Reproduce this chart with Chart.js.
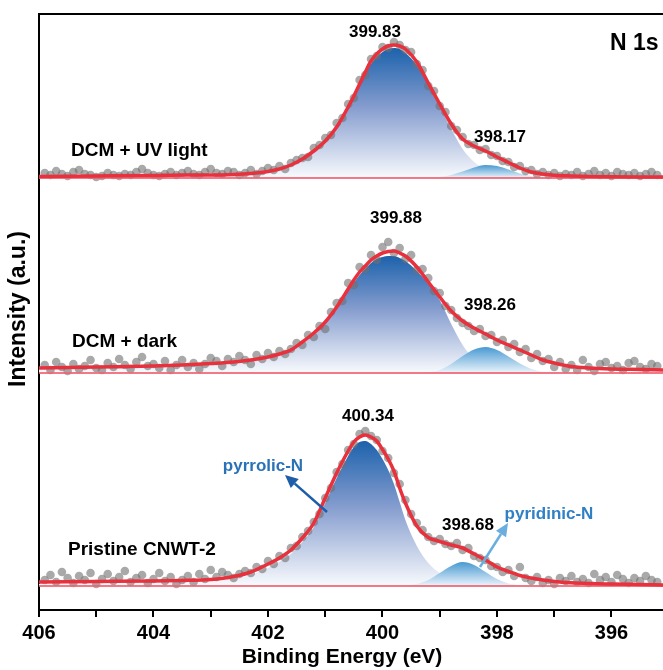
<!DOCTYPE html>
<html>
<head>
<meta charset="utf-8">
<title>N 1s XPS</title>
<script src="https://cdn.jsdelivr.net/npm/chart.js@4.4.1/dist/chart.umd.min.js"></script>
<style>
  html, body { margin: 0; padding: 0; background: #fff; overflow: hidden; }
  #wrap { width: 663px; height: 670px; }
  canvas { display: block; }
</style>
</head>
<body>
<div id="wrap"><canvas id="xps" width="663" height="670"></canvas></div>
<script>
var fontFam = "'Liberation Sans', Arial, Helvetica, sans-serif";

// energy grid of the fitted curves (eV)
var fitEnergy = [406, 405, 404, 403.5, 403, 402.6, 402.3, 402.0, 401.8, 401.6,
	401.4, 401.2, 401.0, 400.8, 400.6, 400.5, 400.4, 400.3, 400.2, 400.1,
	400.0, 399.9, 399.8, 399.7, 399.6, 399.4, 399.2, 399.0, 398.8, 398.6,
	398.4, 398.2, 398.0, 397.8, 397.6, 397.4, 397.2, 397.0, 396.7, 396.4,
	396.0, 395.5, 395.0];

// raw spectra: first energy and step (eV)
var rawStart = 405.9;
var rawStep = 0.1;

var panelNames = ['DCM + UV light', 'DCM + dark', 'Pristine CNWT-2'];
var panelBase = [432, 237, 24];   // vertical offset of each spectrum

// DCM + UV light
var uvRaw = [5,3,7,4,2,6,8,4,3,1, 2,5,3,2,4,3,6,9,5,3, 2,4,6,3,5,7,4,3,6,9,
	5,4,7,6,3,5,8,4,7,10, 8,12,9,15,18,20,21,30,33,40, 43,55,60,74,80,98,103,119,122,131,
	130,136,133,128,126,114,108,92,87,72, 66,52,48,41,34,33,28,29,23,22,
	17,16,11,12,7,8,4,6,3,5, 2,4,3,6,2,4,7,3,5,2, 6,4,3,5,2,4,6,3];
var uvEnv = [1.5,2,2.5,3,3, 3.5,4.5,6.5,9,13, 19,27,37,51,71, 82,94,106,117,124,
	129,132,133,132,129, 116,95,74,54,39, 32,27,21,15.5,10, 6,4,2.7,2,1.5, 1.2,1,1];
var uvMain = [1.5,2,2.5,3,3, 3.5,4.5,6.5,8.5,12.5, 18,26,36,50,69, 80,92,104,114,121,
	126,129,130,129,125, 113,94,72,49,29, 16,9,4.5,2.5,2, 1.5,1.2,1,0.8,0.6, 0.5,0.4,0.3];
var uvSmall = [0,0,0,0,0, 0,0,0,0,0, 0,0,0,0,0, 0,0,0,0,0, 0,0,0,0,0,
	0,0.3,1,3,6.5, 10.5,13,12,8.5,4.5, 2,0.7,0.2,0,0, 0,0,0];

// DCM + dark
var darkRaw = [8,3,11,6,2,9,4,7,13,5, 3,10,6,14,8,4,11,16,7,9, 5,12,3,8,13,6,10,4,9,15,
	12,7,14,11,17,13,9,18,14,20, 16,22,19,24,30,28,38,36,47,44, 61,70,72,90,88,106,104,118,113,126,
	131,120,125,114,118,103,104,95,82,80, 67,63,55,50,47,42,44,37,38,31,
	33,26,29,21,24,15,19,12,14,6, 11,4,8,3,13,6,2,9,11,5, 7,3,10,12,6,4,9,7];
var darkEnv = [5,6,7,8,9.5, 11,13,16,19,23, 31,40,51,66,84, 93,101,107,113,117,
	120,121.5,122,120,117, 106,91,76,62,52, 45,39,33,28,23, 18,13,10,6.5,5, 4,3.5,3];
var darkMain = [4,5,6,7,8.5, 10,12,15,18,22, 29,38,49,64,82, 90,98,104,110,114,
	116,117,117,115,112, 102,89,73,49,28, 14,6,3.5,2.5,2, 1.5,1.2,1,0.8,0.6, 0.5,0.4,0.3];
var darkSmall = [0,0,0,0,0, 0,0,0,0,0, 0,0,0,0,0, 0,0,0,0,0, 0,0,0,0,0,
	0,0.5,3,9,17, 23.5,26,23,16.5,9.5, 4,1,0.2,0,0, 0,0,0];

// Pristine CNWT-2
var priRaw = [6,11,4,14,8,3,10,6,13,2, 7,12,5,9,15,4,8,11,3,7, 13,5,9,2,6,10,4,12,7,16,
	9,14,11,8,12,15,13,19,17,25, 22,30,28,38,40,49,55,64,72,88, 98,114,122,136,142,152,155,150,146,135,
	128,113,102,86,72,63,56,49,45,47, 42,40,43,36,38,30,28,26,20,19,
	14,16,10,19,8,5,9,3,6,2, 8,5,10,4,7,3,12,6,9,4, 11,7,3,8,5,10,6,4];
var priEnv = [4,4.5,5,5.5,6.5, 9.5,14,22,28,36, 48,63,88,113,135, 144,149,151,149,145,
	136.5,127,115,98,83, 60,48.5,44.5,41,38, 32,26,19,14.5,10.5, 8,6,4.5,3.2,2.5, 2,1.5,1];
var priMain = [2,2.5,3,3.5,4.5, 7,11,18,24,32, 44,59,83,108,130, 139,144,145,142,136,
	127,116,102,84,66, 40,23,13,7,4, 3,2,1.5,1,0.8, 0.6,0.5,0.4,0.3,0.2, 0.2,0.1,0.1];
var priSmall = [0,0,0,0,0, 0,0,0,0,0, 0,0,0,0,0, 0,0,0,0,0, 0,0,0,0,
	0.5,2,6,13,20, 24,21,14,7,2.5, 0.8,0.2,0,0,0, 0,0,0,0];

var rawEnergy = [];
for (var i = 0; i < uvRaw.length; i++) {
	rawEnergy.push(+(rawStart - i * rawStep).toFixed(2));
}

function toPoints(energy, vals, base) {
	var out = [];
	for (var i = 0; i < vals.length; i++) {
		out.push({ x: energy[i], y: base + vals[i] });
	}
	return out;
}

// vertical gradient from peak top down to the baseline of a panel
function fade(stops, base, peak) {
	return function(c) {
		var chart = c.chart;
		if (!chart.chartArea) return stops[0][1];
		var ys = chart.scales.y;
		var g = chart.ctx.createLinearGradient(0, ys.getPixelForValue(base + peak), 0, ys.getPixelForValue(base));
		stops.forEach(function(s) { g.addColorStop(s[0], s[1]); });
		return g;
	};
}

var mainStops = [[0, 'rgb(28,98,172)'], [0.45, 'rgb(132,156,206)'], [1, 'rgb(248,250,253)']];
var smallStops = [[0, 'rgb(72,153,210)'], [1, 'rgb(236,244,251)']];

var panels = [
	{ raw: uvRaw, env: uvEnv, main: uvMain, small: uvSmall },
	{ raw: darkRaw, env: darkEnv, main: darkMain, small: darkSmall },
	{ raw: priRaw, env: priEnv, main: priMain, small: priSmall }
];

var datasets = [];
panels.forEach(function(p, k) {
	var base = panelBase[k];
	datasets.push({
		label: panelNames[k] + ' fit',
		data: toPoints(fitEnergy, p.env, base),
		borderColor: '#e8313c',
		borderWidth: 3.5,
		cubicInterpolationMode: 'monotone',
		pointRadius: 0,
		fill: false,
		order: 1
	});
	datasets.push({
		label: panelNames[k] + ' background',
		data: [{ x: 406, y: base }, { x: 395, y: base }],
		borderColor: 'rgba(240,98,112,0.85)',
		borderWidth: 2,
		pointRadius: 0,
		fill: false,
		order: 2
	});
	datasets.push({
		label: panelNames[k] + ' raw',
		data: toPoints(rawEnergy, p.raw, base),
		showLine: false,
		pointRadius: 4.3,
		pointBorderWidth: 0,
		pointBackgroundColor: 'rgba(112,112,112,0.6)',
		order: 3
	});
	datasets.push({
		label: panelNames[k] + ' pyridinic-N',
		data: toPoints(fitEnergy, p.small, base),
		borderWidth: 0,
		borderColor: 'rgba(0,0,0,0)',
		backgroundColor: fade(smallStops, base, Math.max.apply(null, p.small)),
		cubicInterpolationMode: 'monotone',
		pointRadius: 0,
		fill: { value: base },
		order: 4
	});
	datasets.push({
		label: panelNames[k] + ' pyrrolic-N',
		data: toPoints(fitEnergy, p.main, base),
		borderWidth: 0,
		borderColor: 'rgba(0,0,0,0)',
		backgroundColor: fade(mainStops, base, Math.max.apply(null, p.main)),
		cubicInterpolationMode: 'monotone',
		pointRadius: 0,
		fill: { value: base },
		order: 5
	});
});

// text labels: [text, x, y, size, colour, align]
var notes = [
	['N 1s', 610, 44, 23, '#000', 'left'],
	['399.83', 375, 32, 17, '#000', 'center'],
	['398.17', 500, 137, 17, '#000', 'center'],
	['DCM + UV light', 71, 151, 19, '#000', 'left'],
	['399.88', 396, 218, 17, '#000', 'center'],
	['398.26', 490, 305, 17, '#000', 'center'],
	['DCM + dark', 72, 342, 19, '#000', 'left'],
	['400.34', 368, 416, 17, '#000', 'center'],
	['398.68', 468, 525, 17, '#000', 'center'],
	['Pristine CNWT-2', 68, 550, 19, '#000', 'left'],
	['pyrrolic-N', 263, 466, 17, '#2a72b8', 'center'],
	['pyridinic-N', 549, 514, 17, '#2f80c6', 'center']
];
// arrows: [x0, y0, x1, y1, colour]
var arrows = [
	[327, 512, 285, 475, '#1d5ea8'],
	[480, 567, 508, 523, '#6aaee0']
];

var decorPlugin = {
	id: 'decor',
	afterDraw: function(chart) {
		var ctx = chart.ctx;
		var a = chart.chartArea;
		ctx.save();
		// top frame line
		ctx.strokeStyle = '#000';
		ctx.lineWidth = 2;
		ctx.beginPath();
		ctx.moveTo(a.left - 1, a.top);
		ctx.lineTo(a.right, a.top);
		ctx.stroke();

		arrows.forEach(function(r) {
			var ang = Math.atan2(r[3] - r[1], r[2] - r[0]);
			var hl = 13, hw = 6;
			var bx = r[2] - hl * Math.cos(ang), by = r[3] - hl * Math.sin(ang);
			ctx.strokeStyle = r[4];
			ctx.fillStyle = r[4];
			ctx.lineWidth = 2.5;
			ctx.beginPath();
			ctx.moveTo(r[0], r[1]);
			ctx.lineTo(bx, by);
			ctx.stroke();
			ctx.beginPath();
			ctx.moveTo(r[2], r[3]);
			ctx.lineTo(bx + hw * Math.sin(ang), by - hw * Math.cos(ang));
			ctx.lineTo(bx - hw * Math.sin(ang), by + hw * Math.cos(ang));
			ctx.closePath();
			ctx.fill();
		});

		ctx.textBaseline = 'middle';
		notes.forEach(function(n) {
			ctx.font = 'bold ' + n[3] + 'px ' + fontFam;
			ctx.fillStyle = n[4];
			ctx.textAlign = n[5];
			ctx.fillText(n[0], n[1], n[2]);
		});

		// axis titles
		ctx.fillStyle = '#000';
		ctx.textAlign = 'center';
		ctx.font = 'bold 21px ' + fontFam;
		ctx.fillText('Binding Energy (eV)', 342, 657);
		ctx.translate(19, 309);
		ctx.rotate(-Math.PI / 2);
		ctx.font = 'bold 23px ' + fontFam;
		ctx.fillText('Intensity (a.u.)', 0, 0);
		ctx.restore();
	}
};

new Chart(document.getElementById('xps').getContext('2d'), {
	type: 'line',
	data: { datasets: datasets },
	options: {
		responsive: false,
		animation: false,
		devicePixelRatio: 1,
		// the plot runs off the right edge of the figure, as in the original
		layout: { autoPadding: false, padding: { top: 14, left: 0, right: 0, bottom: 0 } },
		plugins: { legend: { display: false }, tooltip: { enabled: false } },
		scales: {
			x: {
				type: 'linear',
				reverse: true,
				min: 395.1,
				max: 406,
				ticks: {
					stepSize: 1,
					includeBounds: false,
					autoSkip: false,
					maxRotation: 0,
					padding: 4,
					color: '#000',
					font: { family: fontFam, size: 20, weight: 'bold' },
					callback: function(v) { return v % 2 === 0 ? String(v) : ''; }
				},
				grid: { display: true, drawOnChartArea: false, drawTicks: true, tickLength: 7, tickWidth: 2, tickColor: '#000', color: '#000', lineWidth: 2 },
				border: { display: true, color: '#000', width: 2 },
				afterFit: function(s) { s.height = 60; s.paddingLeft = 0; s.paddingRight = 0; }
			},
			y: {
				type: 'linear',
				min: 0,
				max: 596,
				ticks: { display: false },
				grid: { display: false, drawTicks: false },
				border: { display: true, color: '#000', width: 2 },
				afterFit: function(s) { s.width = 39; }
			}
		}
	},
	plugins: [decorPlugin]
});
</script>
</body>
</html>
